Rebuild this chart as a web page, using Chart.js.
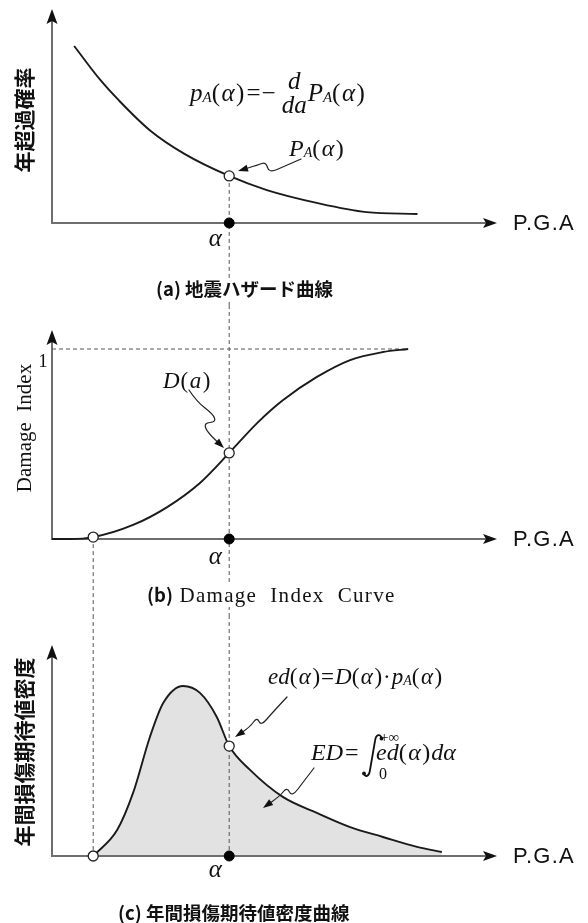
<!DOCTYPE html>
<html><head><meta charset="utf-8">
<script src="https://cdn.jsdelivr.net/npm/chart.js@4"></script>
<style>
html,body{margin:0;padding:0;background:#fff;}
#wrap{position:relative;width:588px;height:923px;overflow:hidden;background:#fff;}
canvas{position:absolute;left:0;}
</style></head><body>
<div id="wrap">
<canvas id="cA" width="588" height="305" style="top:0px"></canvas>
<canvas id="cB" width="588" height="310" style="top:305px"></canvas>
<canvas id="cC" width="588" height="308" style="top:615px"></canvas>
</div>
<script>
// ---------- data (x in P.G.A units, 0..10) ----------
const alphaX = 4.0;
const onsetX = 0.93;

// (a) seismic hazard curve  (annual exceedance probability)
const hazardX = [0.5, 1.1, 1.5, 2.2, 3.0, 4.0, 4.85, 6.0, 7.1, 8.25];
const hazardY = [8.27, 6.66, 5.75, 4.35, 3.22, 2.2, 1.54, 0.93, 0.51, 0.42];

// (b) damage index curve
const damageX = [0, 0.41, 0.93, 1.83, 2.6, 3.34, 4.0, 4.63, 5.21, 5.98, 6.73, 7.47, 8.04];
const damageY = [0, 0.0, 0.01, 0.074, 0.168, 0.295, 0.453, 0.61, 0.73, 0.853, 0.942, 0.984, 1.0];

// (c) annual expected damage density curve
const densityX = [0.93, 1.47, 1.83, 2.21, 2.51, 2.96, 3.34, 3.72, 4.0, 4.47, 5.21, 5.98, 6.73, 7.47, 8.24, 8.8];
const densityY = [0, 1.23, 2.99, 5.64, 7.25, 8.06, 7.73, 6.59, 5.21, 4.08, 2.80, 2.04, 1.37, 0.90, 0.43, 0.19];

const axisLabel = 'P.G.A';
const yLabelA = '年超過確率';
const yLabelB = 'Damage  Index';
const yLabelC = '年間損傷期待値密度';
const captionA = '(a) 地震ハザード曲線';
const captionB = ['(b)', ' Damage  Index  Curve'];
const captionC = '(c) 年間損傷期待値密度曲線';

// ---------- helpers ----------
const SERIF = '"Liberation Serif","Times New Roman",serif';
const SANS = '"Liberation Sans",Arial,sans-serif';
const CJK = '"Noto Sans CJK JP","Noto Sans CJK SC",sans-serif';

function pts(xs, ys){ return xs.map((x,i)=>({x:x, y:ys[i]})); }
function yAt(xs, ys, x){ return ys[xs.indexOf(x)]; }

function axes(chart){
  const ctx = chart.ctx, a = chart.chartArea;
  ctx.save();
  ctx.strokeStyle = '#6e6e6e'; ctx.lineWidth = 2;
  ctx.beginPath();
  ctx.moveTo(a.left, a.top + 8); ctx.lineTo(a.left, a.bottom); ctx.lineTo(a.right - 6, a.bottom);
  ctx.stroke();
  ctx.fillStyle = '#111';
  ctx.beginPath();
  ctx.moveTo(a.left, a.top); ctx.lineTo(a.left + 5.5, a.top + 15); ctx.lineTo(a.left, a.top + 12); ctx.lineTo(a.left - 5.5, a.top + 15);
  ctx.closePath(); ctx.fill();
  const tx = a.right + 2;
  ctx.beginPath();
  ctx.moveTo(tx, a.bottom); ctx.lineTo(tx - 14, a.bottom - 5); ctx.lineTo(tx - 11, a.bottom); ctx.lineTo(tx - 14, a.bottom + 5);
  ctx.closePath(); ctx.fill();
  ctx.font = '22px ' + SANS; ctx.textBaseline = 'middle'; ctx.textAlign = 'left';
  try { ctx.letterSpacing = '1.2px'; } catch(e) {}
  ctx.fillText(axisLabel, 513, a.bottom + 1);
  ctx.restore();
}
function dashV(ctx, x, y0, y1){
  ctx.save(); ctx.strokeStyle = '#555'; ctx.lineWidth = 1; ctx.setLineDash([4,3]);
  ctx.beginPath(); ctx.moveTo(x, y0); ctx.lineTo(x, y1); ctx.stroke(); ctx.restore();
}
function dashH(ctx, x0, x1, y){
  ctx.save(); ctx.strokeStyle = '#555'; ctx.lineWidth = 1; ctx.setLineDash([4,3]);
  ctx.beginPath(); ctx.moveTo(x0, y); ctx.lineTo(x1, y); ctx.stroke(); ctx.restore();
}
function squiggle(ctx, p){
  ctx.save(); ctx.strokeStyle = '#222'; ctx.fillStyle = '#111'; ctx.lineWidth = 1.2;
  ctx.lineJoin = 'round'; ctx.lineCap = 'round';
  const n = p.length, L = p[n-1], P = p[n-2];
  const ang = Math.atan2(L[1]-P[1], L[0]-P[0]);
  ctx.beginPath(); ctx.moveTo(p[0][0], p[0][1]);
  for (let i = 1; i < n-1; i++){
    const mx = (p[i][0]+p[i+1][0])/2, my = (p[i][1]+p[i+1][1])/2;
    ctx.quadraticCurveTo(p[i][0], p[i][1], mx, my);
  }
  ctx.lineTo(L[0] - 6*Math.cos(ang), L[1] - 6*Math.sin(ang));
  ctx.stroke();
  const len = 10, hw = 3.5;
  ctx.beginPath();
  ctx.moveTo(L[0], L[1]);
  ctx.lineTo(L[0] - len*Math.cos(ang) + hw*Math.sin(ang), L[1] - len*Math.sin(ang) - hw*Math.cos(ang));
  ctx.lineTo(L[0] - len*Math.cos(ang) - hw*Math.sin(ang), L[1] - len*Math.sin(ang) + hw*Math.cos(ang));
  ctx.closePath(); ctx.fill();
  ctx.restore();
}
function mathRun(ctx, x, y, size, parts){
  let cx = x;
  ctx.textBaseline = 'alphabetic'; ctx.textAlign = 'left';
  for (const p of parts){
    const t = p[0], k = p[1];
    if (k === 'g'){ cx += t; continue; }
    if (k === 'frac'){
      ctx.font = 'italic ' + size + 'px ' + SERIF;
      const wn = ctx.measureText(t[0]).width, wd = ctx.measureText(t[1]).width;
      const w = Math.max(wn, wd);
      ctx.fillText(t[0], cx + (w-wn)/2, y - p[2]);
      ctx.fillText(t[1], cx + (w-wd)/2, y + p[3]);
      cx += w; continue;
    }
    let dy = 0;
    if (k === 'i') ctx.font = 'italic ' + size + 'px ' + SERIF;
    else if (k === 's'){ ctx.font = 'italic ' + Math.round(size*0.6) + 'px ' + SERIF; dy = 1; }
    else ctx.font = size + 'px ' + SERIF;
    ctx.fillText(t, cx, y + dy);
    cx += ctx.measureText(t).width;
  }
  return cx;
}
const PA = [['(','r'],[1.5,'g'],['α','i'],[1.5,'g'],[')','r']];
function vlabel(ctx, text, cx, cy, font){
  ctx.save(); ctx.translate(cx, cy); ctx.rotate(-Math.PI/2);
  ctx.font = font; ctx.fillStyle = '#111'; ctx.textAlign = 'center'; ctx.textBaseline = 'middle';
  ctx.fillText(text, 0, 0); ctx.restore();
}
function caption(ctx, text, x, baseline, font){
  ctx.save(); ctx.font = font; ctx.textAlign = 'left'; ctx.textBaseline = 'alphabetic';
  const w = ctx.measureText(text).width;
  ctx.fillStyle = '#fff'; ctx.fillRect(x - 2, baseline - 17, w + 4, 21);
  ctx.fillStyle = '#111'; ctx.fillText(text, x, baseline); ctx.restore();
}
function alphaLabel(ctx, x, baseline){
  ctx.save(); ctx.font = 'italic 25px ' + SERIF; ctx.fillStyle = '#111';
  ctx.textAlign = 'center'; ctx.textBaseline = 'alphabetic';
  ctx.fillText('α', x - 14, baseline); ctx.restore();
}

function build(id, pad, yMax, curve, filled, open, solid, deco){
  return new Chart(document.getElementById(id), {
    type: 'line',
    data: { datasets: [
      { data: open, showLine: false, pointRadius: 5, pointBackgroundColor: '#fff', pointBorderColor: '#222', pointBorderWidth: 1.3, order: 0, clip: false },
      { data: solid, showLine: false, pointRadius: 5, pointBackgroundColor: '#000', pointBorderColor: '#000', pointBorderWidth: 1, order: 1, clip: false },
      { data: curve, borderColor: '#1a1a1a', borderWidth: 1.9, pointRadius: 0, cubicInterpolationMode: 'monotone',
        fill: filled ? 'origin' : false, backgroundColor: '#e2e2e2', order: 2, clip: false }
    ]},
    options: {
      responsive: false, animation: false, events: [],
      layout: { padding: pad },
      scales: {
        x: { type: 'linear', min: 0, max: 10, display: false },
        y: { type: 'linear', min: 0, max: yMax, display: false }
      },
      plugins: { legend: { display: false }, tooltip: { enabled: false }, filler: { drawTime: 'beforeDraw' } }
    },
    plugins: [deco]
  });
}

// ---------- (a) ----------
const decoA = {
  id: 'decoA',
  beforeDatasetsDraw(chart){
    axes(chart);
    const s = chart.scales;
    dashV(chart.ctx, s.x.getPixelForValue(alphaX), s.y.getPixelForValue(yAt(hazardX, hazardY, alphaX)), chart.height);
  },
  afterDraw(chart){
    const ctx = chart.ctx, s = chart.scales;
    ctx.save(); ctx.fillStyle = '#111';
    mathRun(ctx, 190, 101, 25, [['p','i'],['A','s']].concat(PA, [[2,'g'],['=','r'],[1,'g'],['−','r'],[6,'g'],[['d','da'],'frac',12,12],[1,'g'],['P','i'],['A','s']], PA));
    mathRun(ctx, 289, 156, 24, [['P','i'],['A','s']].concat(PA));
    ctx.restore();
    squiggle(ctx, [[301,159],[285,166],[269,173],[266,162],[258,165],[238,171]]);
    vlabel(ctx, yLabelA, 24, 120, 'bold 21px ' + CJK);
    alphaLabel(ctx, s.x.getPixelForValue(alphaX), 246);
    caption(ctx, captionA, 156, 296, 'bold 18.5px ' + CJK);
  }
};
build('cA', {left:52, right:93, top:9, bottom:82}, 10, pts(hazardX, hazardY), false,
  [{x:alphaX, y:yAt(hazardX, hazardY, alphaX)}], [{x:alphaX, y:0}], decoA);

// ---------- (b) ----------
const decoB = {
  id: 'decoB',
  beforeDatasetsDraw(chart){
    axes(chart);
    const s = chart.scales, ctx = chart.ctx;
    dashV(ctx, s.x.getPixelForValue(alphaX), 0, chart.height);
    dashV(ctx, s.x.getPixelForValue(onsetX), s.y.getPixelForValue(yAt(damageX, damageY, onsetX)), chart.height);
    dashH(ctx, chart.chartArea.left, s.x.getPixelForValue(damageX[damageX.length-1]), s.y.getPixelForValue(1));
  },
  afterDraw(chart){
    const ctx = chart.ctx, s = chart.scales;
    ctx.save(); ctx.fillStyle = '#111';
    mathRun(ctx, 163, 83, 23, [['D','i'],[1,'g'],['(','r'],[1.5,'g'],['a','i'],[1.5,'g'],[')','r']]);
    ctx.font = '19px ' + SERIF; ctx.textAlign = 'center'; ctx.textBaseline = 'alphabetic';
    ctx.fillText('1', 43, s.y.getPixelForValue(1) + 18);
    ctx.restore();
    squiggle(ctx, [[189,85],[197,97],[213,109],[216,117],[204,118],[207,127],[224,143]]);
    vlabel(ctx, yLabelB, 25, 123, '21px ' + SERIF);
    alphaLabel(ctx, s.x.getPixelForValue(alphaX), 259);
    // caption (b)
    ctx.save();
    ctx.font = 'bold 18.5px ' + CJK;
    const w1 = ctx.measureText(captionB[0]).width;
    ctx.font = '21px ' + SERIF;
    try { ctx.letterSpacing = '1.3px'; } catch(e) {}
    const w2 = ctx.measureText(captionB[1]).width;
    ctx.fillStyle = '#fff'; ctx.fillRect(145, 280, w1 + w2 + 6, 22);
    ctx.fillStyle = '#111';
    ctx.fillText(captionB[1], 147 + w1, 297);
    try { ctx.letterSpacing = '0px'; } catch(e) {}
    ctx.font = 'bold 18.5px ' + CJK;
    ctx.fillText(captionB[0], 147, 297);
    ctx.restore();
  }
};
build('cB', {left:52, right:93, top:25, bottom:76}, 1.1, pts(damageX, damageY), false,
  [{x:onsetX, y:yAt(damageX, damageY, onsetX)}, {x:alphaX, y:yAt(damageX, damageY, alphaX)}], [{x:alphaX, y:0}], decoB);

// ---------- (c) ----------
const decoC = {
  id: 'decoC',
  beforeDatasetsDraw(chart){
    axes(chart);
    const s = chart.scales, ctx = chart.ctx;
    dashV(ctx, s.x.getPixelForValue(alphaX), 0, s.y.getPixelForValue(0));
    dashV(ctx, s.x.getPixelForValue(onsetX), 0, s.y.getPixelForValue(0));
  },
  afterDraw(chart){
    const ctx = chart.ctx, s = chart.scales;
    ctx.save(); ctx.fillStyle = '#111';
    mathRun(ctx, 268, 69, 23, [['ed','i']].concat(PA, [[1,'g'],['=','r'],[1,'g'],['D','i']], PA, [[1,'g'],['·','r'],[1,'g'],['p','i'],['A','s']], PA));
    mathRun(ctx, 311, 145, 24, [['ED','i'],[2,'g'],['=','r']]);
    // integral sign
    ctx.save(); ctx.strokeStyle = '#111'; ctx.lineWidth = 1.8; ctx.lineCap = 'round';
    ctx.beginPath();
    ctx.moveTo(381.5, 123);
    ctx.bezierCurveTo(380.5, 118.5, 376, 119, 375, 126);
    ctx.lineTo(370, 155);
    ctx.bezierCurveTo(369, 162, 365, 162.5, 364, 158.5);
    ctx.stroke();
    ctx.beginPath(); ctx.arc(381.5, 123.5, 1.9, 0, Math.PI*2); ctx.fill();
    ctx.beginPath(); ctx.arc(364, 158.5, 1.9, 0, Math.PI*2); ctx.fill();
    ctx.restore();
    ctx.font = '15px ' + SERIF; ctx.fillText('+∞', 380, 127);
    ctx.font = '16px ' + SERIF; ctx.fillText('0', 379, 164);
    mathRun(ctx, 376, 145, 24, [['ed','i']].concat(PA, [[1,'g'],['d','i'],['α','i']]));
    ctx.restore();
    squiggle(ctx, [[287,82],[272,98],[261,111],[257,102],[250,112],[235,122]]);
    squiggle(ctx, [[314,153],[304,166],[292,182],[287,172],[280,181],[263,193]]);
    vlabel(ctx, yLabelC, 24, 137, 'bold 21px ' + CJK);
    alphaLabel(ctx, s.x.getPixelForValue(alphaX), 262);
    caption(ctx, captionC, 118, 305, 'bold 18.5px ' + CJK);
  }
};
build('cC', {left:52, right:93, top:30, bottom:67}, 10, pts(densityX, densityY), true,
  [{x:onsetX, y:0}, {x:alphaX, y:yAt(densityX, densityY, alphaX)}], [{x:alphaX, y:0}], decoC);
</script>
</body></html>
